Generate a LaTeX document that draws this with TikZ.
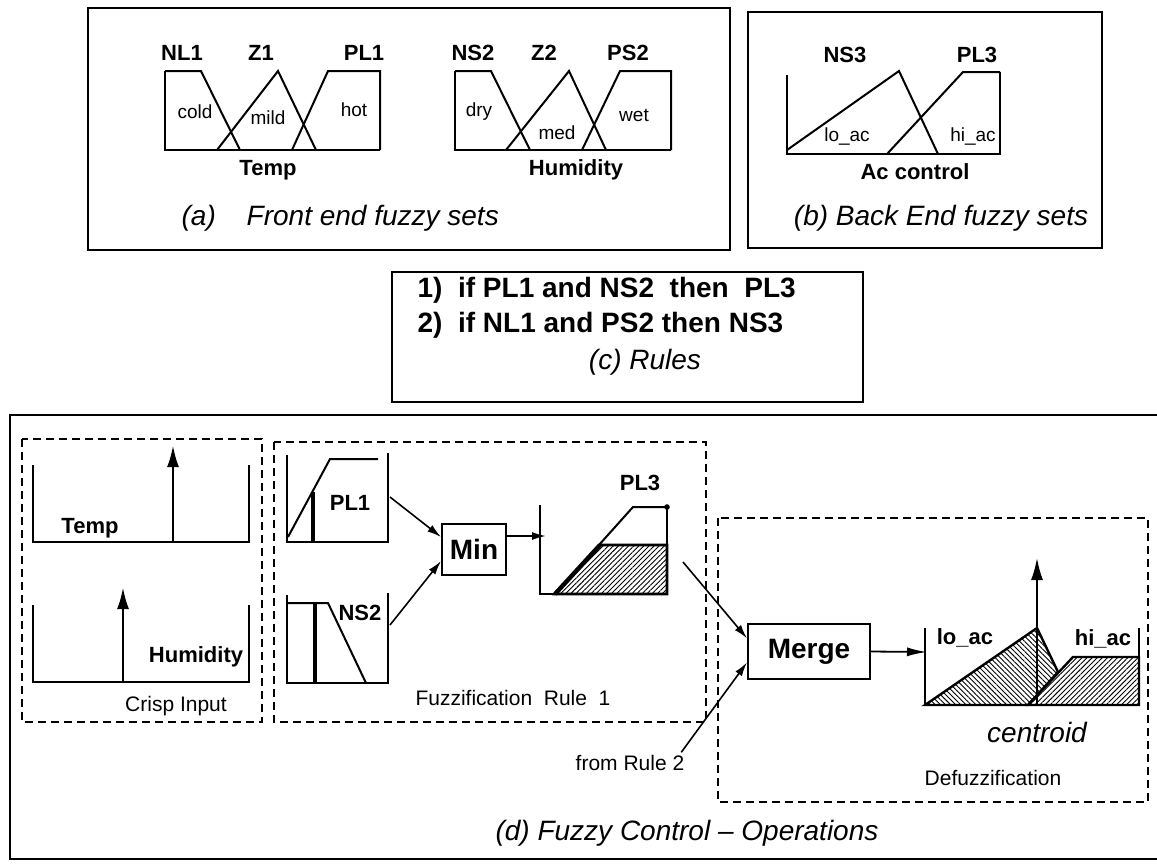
\documentclass[tikz,border=0pt]{standalone}
\usepackage{fontspec}
\setmainfont{Liberation Sans}
\usetikzlibrary{arrows.meta,patterns.meta}

\tikzset{
  setlab/.style={font=\bfseries\fontsize{11}{13}\selectfont},
  termlab/.style={font=\fontsize{9.5}{11}\selectfont},
  caption/.style={font=\itshape\fontsize{14}{16}\selectfont},
  note/.style={font=\fontsize{10.5}{12}\selectfont},
  panel/.style={draw,line width=1pt},
  group/.style={draw,line width=1pt,dash pattern=on 4pt off 2.5pt},
  opbox/.style={draw,line width=1pt,inner sep=0pt,font=\bfseries\fontsize{14}{16}\selectfont},
  feed/.style={line width=0.8pt,-{Latex[length=7pt,width=4pt]}},
  bigfeed/.style={line width=0.9pt,-{Latex[length=10pt,width=4.5pt]}},
  spike/.style={line width=1.4pt,-{Latex[length=11pt,width=6pt]}},
  hatchne/.style={pattern={Lines[angle=45,distance=1.8pt,line width=0.45pt]}},
  hatchnw/.style={pattern={Lines[angle=-45,distance=1.8pt,line width=0.45pt]}}
}

\begin{document}
\begin{tikzpicture}[x=0.5pt,y=-0.5pt,line width=1pt]
        \useasboundingbox (0,0) rectangle (1157,864);

        % (a) front end sets
        \draw[panel] (88,8) rectangle (730,250);
        \draw (165,71) -- (165,150) -- (380,150);
        \draw (165,71) -- (201,71) -- (240,150);
        \draw (217,150) -- (278,71) -- (316,150);
        \draw (292,150) -- (328,71) -- (380,71) -- (380,150);
        \draw (455,71) -- (455,150) -- (671,150);
        \draw (455,71) -- (491,71) -- (530,150);
        \draw (506,150) -- (569,71) -- (606,150);
        \draw (582,150) -- (620,71) -- (671,71) -- (671,150);

        % (b) back end sets
        \draw[panel] (748,12) rectangle (1102,248);
        \draw (787,75) -- (787,154) -- (1000,154) -- (1000,72);
        \draw (787,150) -- (899,71) -- (938,154);
        \draw (887,154) -- (963,72) -- (1000,72);

        \begin{scope}[every node/.style={setlab}]
          \node (nl1)  at (182,53)  {NL1};
          \node (z1)   at (261,53)  {Z1};
          \node (pl1)  at (364,53)  {PL1};
          \node (ns2)  at (473,53)  {NS2};
          \node (z2)   at (544,53)  {Z2};
          \node (ps2)  at (628,53)  {PS2};
          \node (temp) at (268,170) {Temp};
          \node (hum)  at (576,170) {Humidity};
          \node (ns3)  at (845,55)  {NS3};
          \node (pl3)  at (977,55)  {PL3};
          \node (ac)   at (915,172) {Ac control};
        \end{scope}

        \begin{scope}[every node/.style={termlab}]
          \node (cold) at (195,112) {cold};
          \node (mild) at (268,118) {mild};
          \node (hot)  at (354,110) {hot};
          \node (dry)  at (479,112) {dry};
          \node (med)  at (557,133) {med};
          \node (wet)  at (634,115) {wet};
          \node (loac) at (847,136) {lo\_ac};
          \node (hiac) at (973,136) {hi\_ac};
        \end{scope}

        \node[caption,anchor=west] (capa) at (174,218) {(a)\hspace{1.1em}Front end fuzzy sets};
        \node[caption] (capb) at (941,218) {(b) Back End fuzzy sets};

        % (c) rules
        \draw[panel] (392,272) rectangle (863,402);
        \begin{scope}[every node/.style={anchor=west,font=\bfseries\fontsize{14}{16}\selectfont}]
          \node (rule1) at (410,290) {1)\ \ if PL1 and NS2\ \ then\ \ PL3};
          \node (rule2) at (410,325) {2)\ \ if NL1 and PS2 then NS3};
        \end{scope}
        \node[caption] (capc) at (645,362) {(c) Rules};

        % (d) operations
        \draw[panel] (1157,415) -- (10,415) -- (10,859) -- (1157,859);
        \draw[group] (22,439) rectangle (262,722);
        \draw[group] (274,442) rectangle (706,722);
        \draw[group] (718,518) rectangle (1148,802);

        % crisp input
        \draw (33,465) -- (33,542) -- (249,542) -- (249,465);
        \draw (33,605) -- (33,682) -- (249,682) -- (249,605);
        \coordinate (tbase) at (173,542);
        \coordinate (ttip)  at (173,445);
        \coordinate (hbase) at (123,682);
        \coordinate (htip)  at (123,587);
        \draw[spike] (tbase) -- (ttip);
        \draw[spike] (hbase) -- (htip);

        % fuzzification
        \draw (287,455) -- (287,542) -- (388,542) -- (388,453);
        \draw (288,537) -- (330,459) -- (378,459);
        \draw[line width=2pt] (313,492) -- (313,542);
        \draw (287,595) -- (287,683) -- (388,683) -- (388,593);
        \draw (288,603) -- (328,603) -- (366,683);
        \draw[line width=2pt] (315,603) -- (315,683);

        \draw (540,505) -- (540,594) -- (667,594) -- (667,507);
        \draw (555,594) -- (633,507) -- (667,507);
        \fill (667,507) circle (1.4pt);
        \draw[hatchne,line width=1.3pt] (555,594) -- (600,545) -- (667,545) -- (667,594) -- cycle;
        \draw[line width=2.2pt] (555,594) -- (600,545);

        % defuzzification
        \draw (925,628) -- (925,705) -- (1139,705) -- (1139,628);
        \draw[hatchnw,line width=1.2pt] (925,705) -- (1037,628) -- (1058,672) -- (1028,705) -- cycle;
        \draw[hatchne,line width=1.2pt] (1028,705) -- (1073,657) -- (1139,657) -- (1139,705) -- cycle;
        \coordinate (cbase) at (1037,705);
        \coordinate (ctip)  at (1037,558);
        \draw[spike,line width=0.9pt] (cbase) -- (ctip);

        \begin{scope}[every node/.style={setlab}]
          \node (temp2) at (90,528)   {Temp};
          \node (hum2)  at (196,657)  {Humidity};
          \node (pl1b)  at (350,503)  {PL1};
          \node (ns2b)  at (360,613)  {NS2};
          \node (pl3b)  at (640,483)  {PL3};
          \node (loacb) at (965,638)  {lo\_ac};
          \node (hiacb) at (1103,639) {hi\_ac};
        \end{scope}

        \begin{scope}[every node/.style={note}]
          \node (crisp) at (176,706)  {Crisp Input};
          \node (fuzz)  at (513,698)  {Fuzzification\ \ Rule\ \ 1};
          \node[inner sep=1pt] (from2) at (630,763) {from Rule 2};
          \node (defuz) at (993,778)  {Defuzzification};
        \end{scope}
        \node[font=\itshape\fontsize{14}{16}\selectfont] (cent) at (1037,732) {centroid};

        \node[opbox,minimum width=32pt,minimum height=25.5pt] (min) at (474,549) {Min};
        \node[opbox,minimum width=61pt,minimum height=27.5pt] (merge) at (809,651.5) {Merge};

        \coordinate (pl1out) at (390,497);
        \coordinate (ns2out) at (390,625);
        \coordinate (pl3in)  at (546,536);
        \coordinate (pl3out) at (683,562);
        \coordinate (defin)  at (927,652);

        \begin{scope}[every edge/.style={draw,feed}]
          \path (pl1out) edge (min.160);
          \path (ns2out) edge (min.200);
          \path (min.east |- pl3in) edge (pl3in);
          \path (pl3out) edge (merge.168);
          \path ([xshift=-3pt]from2.north east) edge (merge.190);
        \end{scope}
        \draw[bigfeed] (merge.east) -- (defin);

        \node[caption] (capd) at (687,833) {(d) Fuzzy Control -- Operations};

      \end{tikzpicture}
\end{document}
